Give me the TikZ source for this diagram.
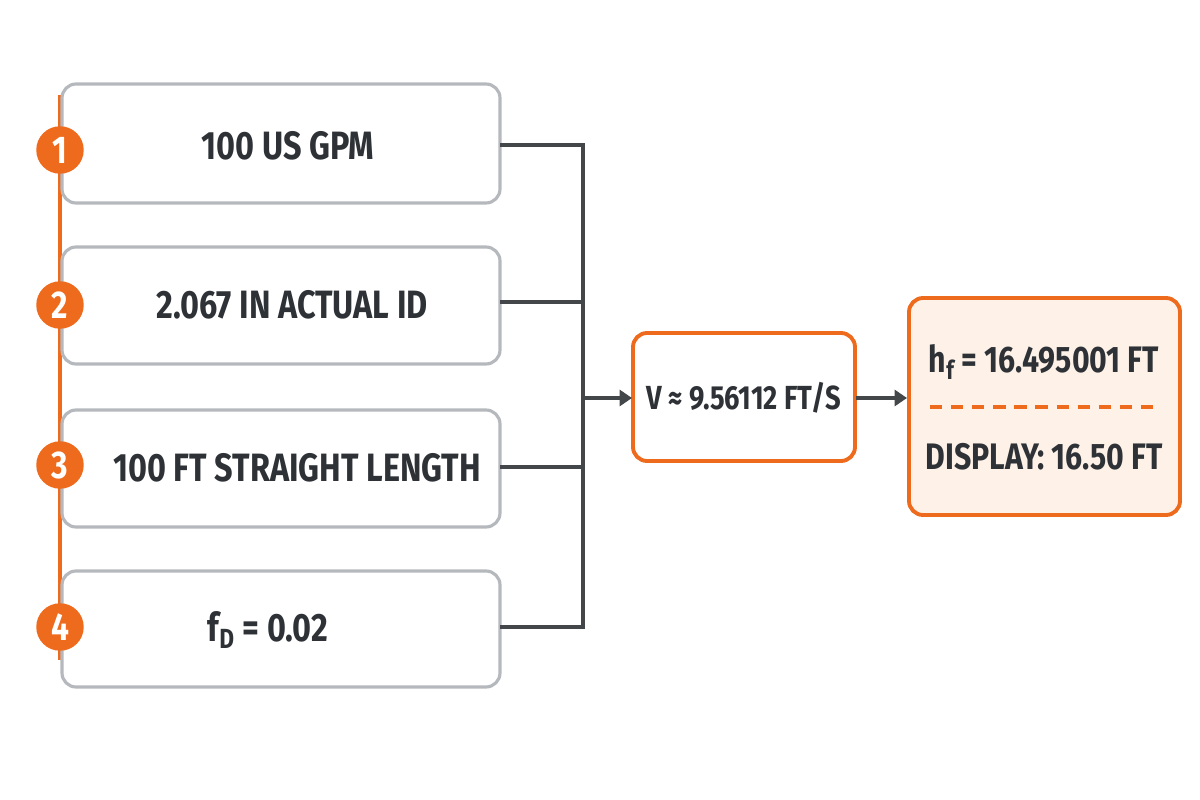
\documentclass[tikz,border=0pt]{standalone}
\usepackage{fontspec}
\setmainfont{Fira Sans}[FakeStretch=0.82]
\usetikzlibrary{arrows.meta}
\definecolor{og}{HTML}{EE6A1C}
\definecolor{gb}{HTML}{B5B8BC}
\definecolor{tx}{HTML}{2E3236}
\definecolor{lo}{HTML}{FDF1E8}
\begin{document}
\begin{tikzpicture}[x=0.02cm,y=-0.02cm,
  inbox/.style={draw=gb,line width=1.8pt,rounded corners=8pt,fill=white},
  lab/.style={text=tx,font=\fontsize{22.5}{26}\selectfont\bfseries},
  num/.style={circle,fill=og,minimum size=0.95cm,inner sep=0pt,text=white,font=\fontsize{22}{24}\selectfont\bfseries},
  conn/.style={draw=tx!90,line width=2.4pt},
  arr/.style={conn,-{Triangle[length=7pt,width=9pt]}},
  obox/.style={draw=og,line width=2.2pt,rounded corners=8pt}]
\useasboundingbox (0,0) rectangle (1200,800);
\draw[og,line width=2.2pt] (60,95) -- (60,660);
\draw[inbox] (62,84) rectangle (500,203);
\draw[inbox] (62,247) rectangle (500,364);
\draw[inbox] (62,410) rectangle (500,527);
\draw[inbox] (62,571) rectangle (500,687);
\node[lab] (t1) at (288,146) {100 US GPM};
\node[lab] (t2) at (292,305) {2.067 IN ACTUAL ID};
\node[lab] (t3) at (297,468) {100 FT STRAIGHT LENGTH};
\node[lab] (t4) at (268,630) {f\textsubscript{D} = 0.02};
\node[num] (n1) at (60,150) {1};
\node[num] (n2) at (60,305) {2};
\node[num] (n3) at (60,465) {3};
\node[num] (n4) at (60,627) {4};
\coordinate (b1) at (500,145); \coordinate (b2) at (500,302);
\coordinate (b3) at (500,467); \coordinate (b4) at (500,627);
\coordinate (j1) at (583,145); \coordinate (j4) at (583,627);
\coordinate (jm) at (583,398);
\draw[conn] (b1) -- (j1) -- (j4) -- (b4);
\draw[conn] (b2) -- (583,302);
\draw[conn] (b3) -- (583,467);
\draw[obox,fill=white] (633,333) rectangle (855,461);
\node[text=tx,font=\fontsize{19}{22}\selectfont\bfseries] (v) at (744,398) {V ≈ 9.56112 FT/S};
\coordinate (vl) at (632,398); \coordinate (vr) at (856,398);
\draw[arr] (jm) -- (vl);
\draw[obox,fill=lo] (909,298) rectangle (1180,515);
\coordinate (rl) at (907,398);
\draw[arr] (vr) -- (rl);
\node[text=tx,font=\fontsize{21}{24}\selectfont\bfseries] (h) at (1044,362) {h\textsubscript{f} = 16.495001 FT};
\draw[og,line width=1.8pt,dash pattern=on 7pt off 5pt] (930,407) -- (1160,407);
\node[text=tx,font=\fontsize{21}{24}\selectfont\bfseries] (d) at (1044,457) {DISPLAY: 16.50 FT};
\end{tikzpicture}
\end{document}
